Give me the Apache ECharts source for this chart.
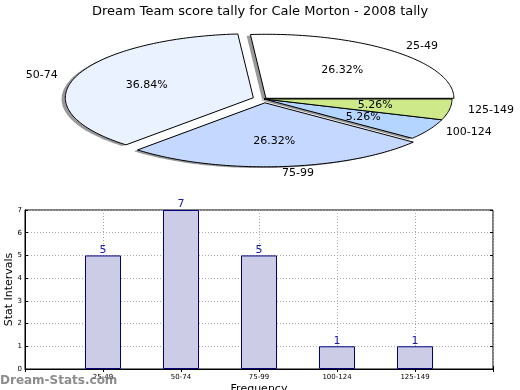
<!DOCTYPE html>
<html><head><meta charset="utf-8">
<script src="https://cdn.jsdelivr.net/npm/echarts@6/dist/echarts.min.js"></script>
<style>html,body{margin:0;padding:0;background:#fff}#c{width:520px;height:390px}</style>
</head><body><div id="c"></div>
<script>
const chartTitle = 'Dream Team score tally for Cale Morton - 2008 tally';
const categories = ['25-49', '50-74', '75-99', '100-124', '125-149'];
const counts = [5, 7, 5, 1, 1];
const yTickValues = [0, 1, 2, 3, 4, 5, 6, 7];
const yAxisName = 'Stat Intervals';
const xAxisName = 'Frequency';
const watermark = 'Dream-Stats.com';

// styles (not data)
const sliceColors = ['#ffffff', '#eaf1ff', '#c5d8ff', '#b4d5ff', '#cde98a'];
const explode = [0.015, 0.06, 0.06, 0, 0];
const PIE = { cx: 264, cy: 99, rx: 188, ry: 64 };
const FONT = 'DejaVu Sans';

const total = counts.reduce((a, b) => a + b, 0);

function pieItem(params, api) {
  const i = params.dataIndex;
  const v = api.value(0);
  let start = 0;
  for (let j = 0; j < i; j++) start += counts[j];
  const a0 = start / total * Math.PI * 2;
  const a1 = (start + v) / total * Math.PI * 2;
  const am = (a0 + a1) / 2;
  const ex = explode[i];
  const cx = PIE.cx + PIE.rx * ex * Math.cos(am);
  const cy = PIE.cy - PIE.ry * ex * Math.sin(am);
  const n = Math.max(6, Math.ceil((a1 - a0) / 0.02));
  const pts = [[cx, cy]];
  for (let k = 0; k <= n; k++) {
    const a = a0 + (a1 - a0) * k / n;
    pts.push([cx + PIE.rx * Math.cos(a), cy - PIE.ry * Math.sin(a)]);
  }
  const sdx = -0.02 * PIE.rx, sdy = 0.02 * PIE.ry;
  const spts = pts.map(p => [p[0] + sdx, p[1] + sdy]);
  const pct = (100 * v / total).toFixed(2) + '%';
  const lx = cx + 1.1 * PIE.rx * Math.cos(am);
  const ly = cy - 1.1 * PIE.ry * Math.sin(am);
  const px = cx + 0.6 * PIE.rx * Math.cos(am);
  const py = cy - 0.6 * PIE.ry * Math.sin(am);
  return {
    type: 'group',
    children: [
      { type: 'polygon', z2: 1, shape: { points: spts },
        style: { fill: 'rgba(0,0,0,0.4)', stroke: 'none' } },
      { type: 'polygon', z2: 10, shape: { points: pts },
        style: { fill: sliceColors[i], stroke: '#000', lineWidth: 1 } },
      { type: 'text', z2: 20, x: px, y: py,
        style: { text: pct, font: '11px "' + FONT + '"', fill: '#000', align: 'center', verticalAlign: 'middle' } },
      { type: 'text', z2: 20, x: lx, y: ly,
        style: { text: categories[i], font: '11px "' + FONT + '"', fill: '#000',
                 align: Math.cos(am) > 0 ? 'left' : 'right', verticalAlign: 'middle' } }
    ]
  };
}

const chart = echarts.init(document.getElementById('c'), null, { renderer: 'canvas' });
const axisCats = [''].concat(categories, ['']);
const barData = [null].concat(counts, [null]);

chart.setOption({
  animation: false,
  backgroundColor: '#fff',
  textStyle: { fontFamily: FONT },
  title: {
    text: chartTitle, left: 'center', top: 0,
    textStyle: { fontSize: 13, fontWeight: 'normal', color: '#000', fontFamily: FONT }
  },
  grid: { left: 25, right: 27, top: 210, bottom: 21, show: true, borderColor: '#000', borderWidth: 1,
          backgroundColor: 'transparent', containLabel: false, outerBoundsMode: 'none' },
  xAxis: [{
    type: 'category', data: axisCats, boundaryGap: false,
    name: xAxisName, nameLocation: 'middle', nameGap: 15, nameMoveOverlap: false,
    nameTextStyle: { fontSize: 11, color: '#000', fontFamily: FONT },
    axisLine: { show: true, lineStyle: { color: '#000' } },
    axisTick: { show: true, inside: true, length: 3, alignWithLabel: true, lineStyle: { color: '#000' } },
    axisLabel: { fontSize: 7, color: '#000', margin: 5, interval: 0 },
    splitLine: { show: true, lineStyle: { color: '#aaa', type: [1, 2] } }
  }, {
    type: 'category', data: axisCats, boundaryGap: false, position: 'top',
    axisLine: { show: false },
    axisTick: { show: true, inside: true, length: 3, lineStyle: { color: '#000' } },
    axisLabel: { show: false }, splitLine: { show: false }
  }],
  yAxis: [{
    type: 'value', min: yTickValues[0], max: yTickValues[yTickValues.length - 1], interval: 1,
    name: yAxisName, nameLocation: 'middle', nameGap: 10, nameMoveOverlap: false,
    nameTextStyle: { fontSize: 11, color: '#000', fontFamily: FONT },
    axisLine: { show: true, lineStyle: { color: '#000' } },
    axisTick: { show: true, inside: true, length: 3, lineStyle: { color: '#000' } },
    axisLabel: { fontSize: 7, color: '#000', margin: 3 },
    splitLine: { show: true, lineStyle: { color: '#aaa', type: [1, 2] } }
  }, {
    type: 'value', position: 'right', min: yTickValues[0], max: yTickValues[yTickValues.length - 1], interval: 1,
    axisLine: { show: false },
    axisTick: { show: true, inside: true, length: 3, lineStyle: { color: '#000' } },
    axisLabel: { show: false }, splitLine: { show: false }
  }],
  series: [{
    type: 'bar', data: barData, barWidth: 36, xAxisIndex: 0, yAxisIndex: 0,
    itemStyle: { color: '#ccccE6', borderColor: '#000080', borderWidth: 1 },
    label: { show: true, position: 'top', distance: 0, fontSize: 11, color: '#1a1aaa', fontFamily: FONT }
  }, {
    type: 'custom', coordinateSystem: 'none', renderItem: pieItem,
    data: counts.map(v => [v]), z: 5
  }],
  graphic: [{
    type: 'text', left: 0, top: 375, z: 100,
    style: { text: watermark, font: 'bold 12px "' + FONT + '"', fill: 'rgba(120,120,120,0.85)' }
  }]
});
</script></body></html>
